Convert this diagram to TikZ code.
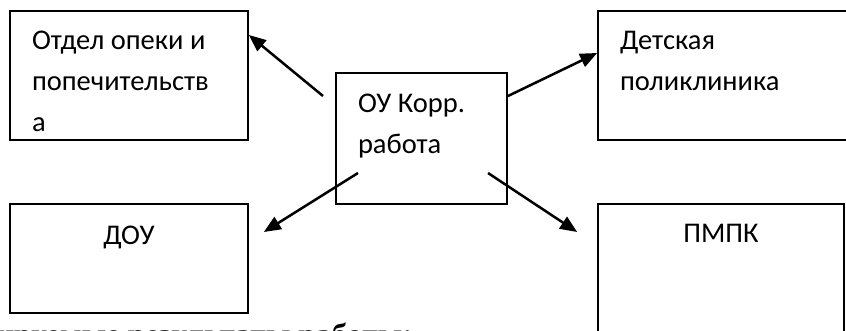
\documentclass[tikz,border=0pt]{standalone}
\usepackage{fontspec}
\setmainfont{Carlito}
\newfontfamily\itogfont{Liberation Serif}
\usepackage{tikz}
\usetikzlibrary{arrows.meta, positioning}
\tikzset{
    boxnode/.style = {draw, rectangle, line width=1.7pt, inner xsep=22pt, inner ysep=0pt,
      align=flush left, text height=39pt, node distance=0pt,
      font=\fontsize{28.5}{41}\selectfont},
    midboxnode/.style = {boxnode, align=flush center},
    itognode/.style = {draw=none, inner sep=0pt, font=\itogfont\bfseries\fontsize{31.5}{36}\selectfont},
    connect/.style = {black, line width=2.5pt, -{Triangle[length=17pt, width=14pt]}}
}

\begin{document}
\begin{tikzpicture}[x=1pt, y=-1pt]
\useasboundingbox (0,0) rectangle (846,331);
\clip (0,0) rectangle (846,331);
\node [name=ou, boxnode, text width=127pt, text height=40pt, text depth=91pt] at (421.5,138.5) {ОУ Корр.\\работа};
\node [name=opeka, boxnode, text width=194pt, text depth=90pt, left of=ou, xshift=-292.5pt, yshift=63pt] {Отдел опеки и\\попечительств\\а};
\node [name=poli, boxnode, text width=206pt, text depth=90pt, right of=ou, xshift=301.5pt, yshift=63pt] {Детская\\поликлиника};
\node [name=dou, midboxnode, text width=194pt, text height=40pt, text depth=69pt, left of=ou, xshift=-292.5pt, yshift=-120pt] {ДОУ};
\node [name=pmpk, midboxnode, text width=202pt, text depth=102pt, right of=ou, xshift=299.5pt, yshift=-136pt] {ПМПК};
\node [name=itog, itognode, anchor=base east] at (413,345) {ируемые результаты работы:};
\draw [connect] ([xshift=-98.5pt, yshift=42.5pt]ou.center) -- ([yshift=40.5pt]opeka.east);
\draw [connect] ([xshift=86.5pt, yshift=42.5pt]ou.center) -- ([yshift=22.5pt]poli.west);
\draw [connect] ([xshift=-63.5pt, yshift=-34.5pt]ou.center) -- ([xshift=15pt, yshift=26.5pt]dou.east);
\draw [connect] ([xshift=66.5pt, yshift=-34.5pt]ou.center) -- ([xshift=-20pt, yshift=42.5pt]pmpk.west);
\end{tikzpicture}
\end{document}
